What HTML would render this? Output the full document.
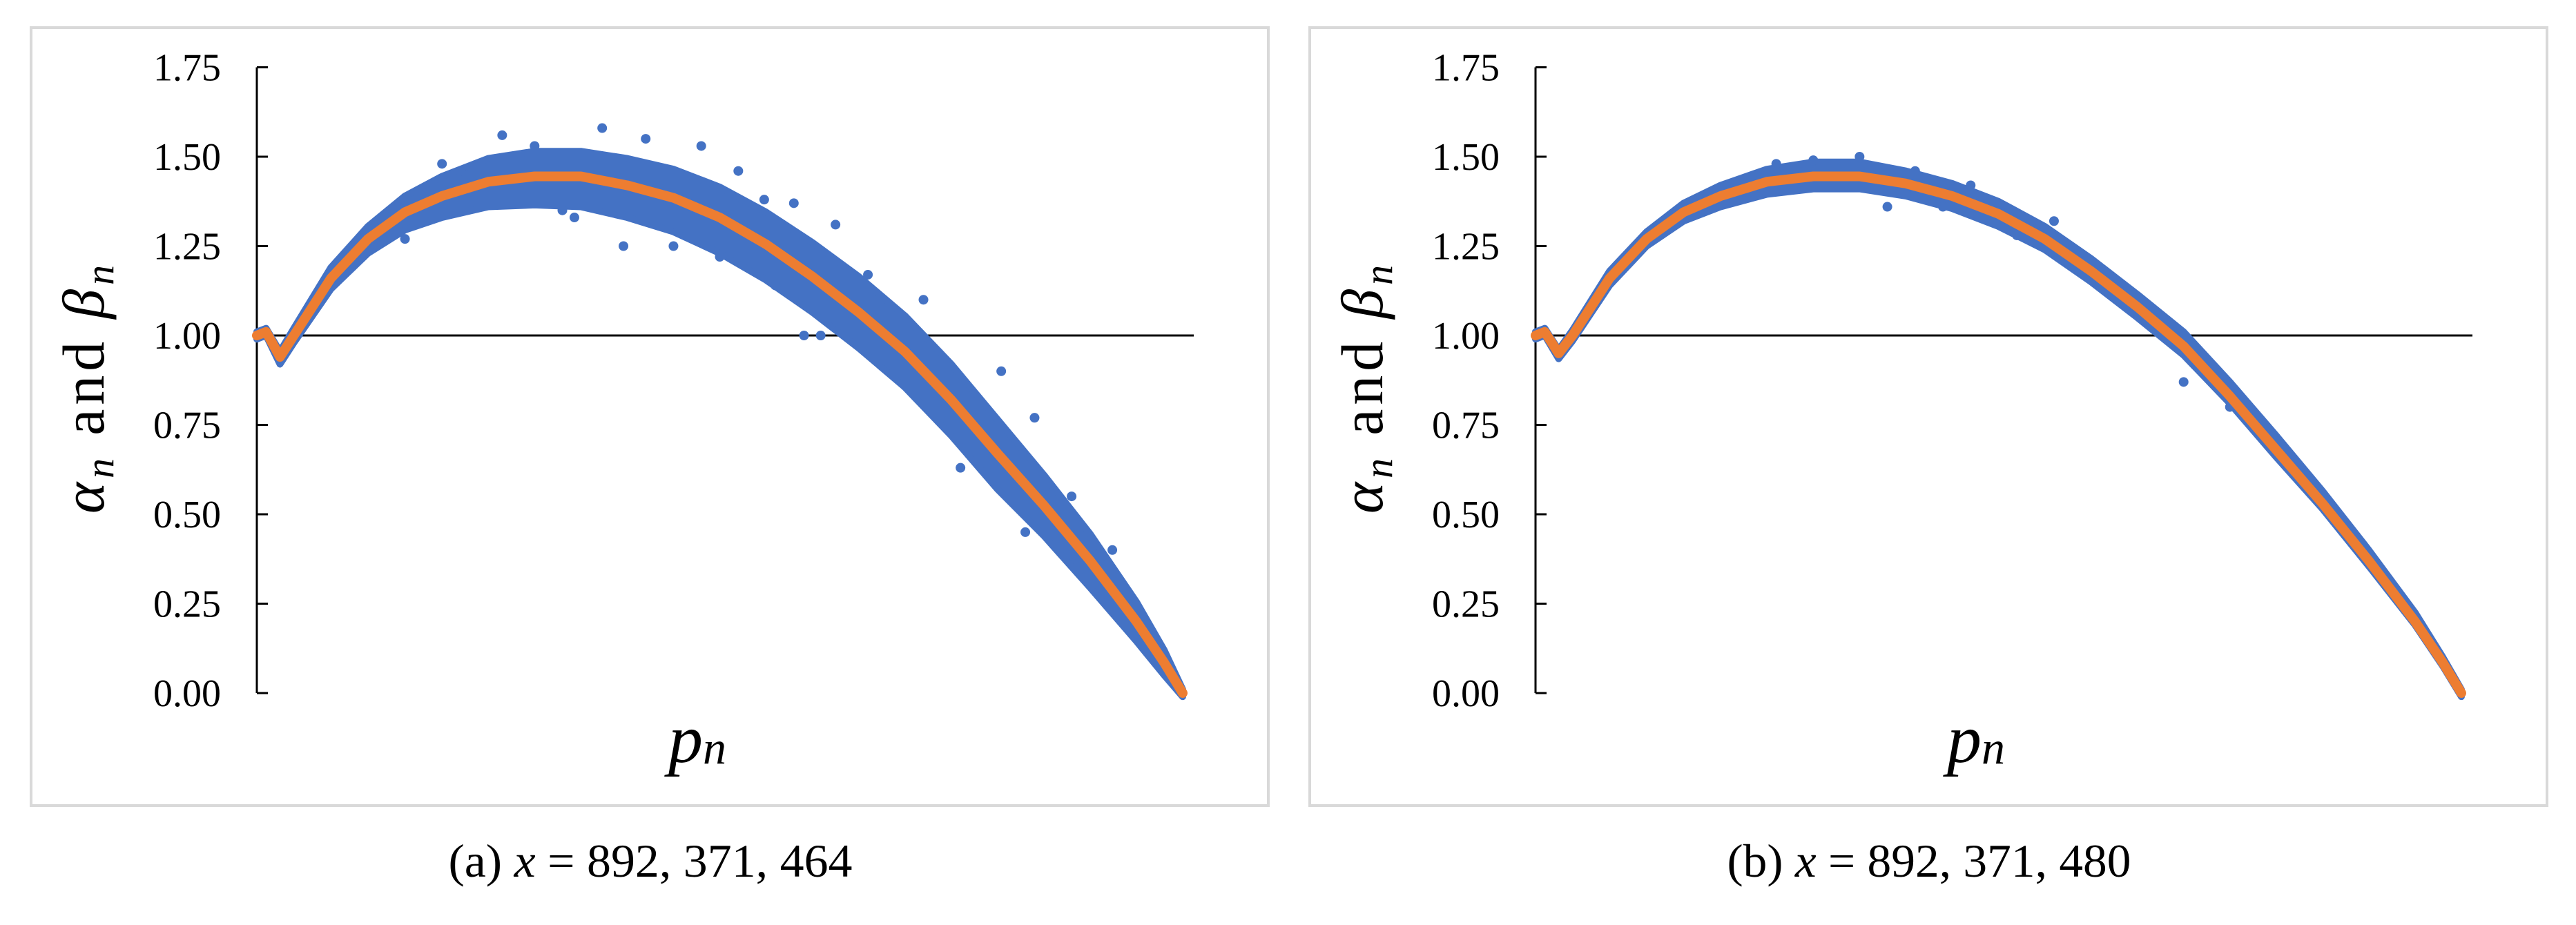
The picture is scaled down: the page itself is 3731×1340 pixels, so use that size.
<!DOCTYPE html>
<html><head><meta charset="utf-8"><style>
html,body{margin:0;padding:0;background:#fff}
svg{display:block}
text{font-family:"Liberation Serif",serif;fill:#000}
</style></head><body>
<svg id="chart" width="3731" height="1340" viewBox="0 0 3731 1340" xmlns="http://www.w3.org/2000/svg"></svg>
<script>
const xFrac = [0,0.01,0.025,0.04,0.08,0.12,0.16,0.2,0.25,0.3,0.35,0.4,0.45,0.5,0.55,0.6,0.65,0.7,0.75,0.8,0.85,0.9,0.95,0.98,1.0];
const fitA = [1.0,1.01,0.94,1.0,1.16,1.27,1.345,1.39,1.43,1.445,1.445,1.42,1.385,1.33,1.255,1.165,1.065,0.955,0.82,0.67,0.525,0.37,0.2,0.085,0.0];
const upA = [0.01,0.01,0.015,0.02,0.03,0.035,0.045,0.055,0.065,0.07,0.07,0.075,0.08,0.085,0.09,0.095,0.1,0.1,0.1,0.095,0.085,0.075,0.055,0.035,0.01];
const loA = [0.01,0.01,0.02,0.02,0.03,0.04,0.05,0.06,0.07,0.08,0.085,0.09,0.095,0.1,0.1,0.1,0.1,0.1,0.1,0.1,0.085,0.075,0.055,0.035,0.01];
const outA_x = [0.265,0.373,0.48,0.625,0.804,0.76,0.83,0.548,0.343,0.396,0.609,0.591,0.84,0.924,0.22,0.45,0.2,0.3,0.42,0.52,0.58,0.66,0.72,0.88,0.9,0.16,0.33,0.5,0.7,0.56];
const outA_y = [1.56,1.58,1.53,1.31,0.90,0.63,0.45,1.38,1.33,1.25,1.0,1.0,0.77,0.40,1.46,1.25,1.48,1.53,1.55,1.46,1.37,1.17,1.1,0.55,0.38,1.27,1.35,1.22,0.86,1.14];
const fitB = [1.0,1.01,0.95,1.0,1.16,1.27,1.345,1.39,1.43,1.445,1.445,1.425,1.39,1.34,1.27,1.18,1.08,0.97,0.83,0.68,0.53,0.37,0.2,0.085,0.0];
const upB = [0.01,0.01,0.01,0.015,0.02,0.02,0.025,0.03,0.035,0.04,0.04,0.035,0.035,0.035,0.035,0.035,0.035,0.04,0.04,0.04,0.035,0.03,0.025,0.015,0.01];
const loB = [0.01,0.01,0.015,0.015,0.02,0.02,0.025,0.03,0.035,0.035,0.035,0.035,0.035,0.035,0.03,0.03,0.03,0.025,0.02,0.02,0.015,0.015,0.01,0.01,0.01];
const outB_x = [0.35,0.26,0.38,0.44,0.52,0.6,0.7,0.75,0.41,0.3,0.47,0.56,0.66,0.72];
const outB_y = [1.50,1.48,1.36,1.36,1.28,1.17,0.87,0.80,1.46,1.49,1.42,1.32,1.04,0.93];
const yTicks = [0,0.25,0.5,0.75,1.0,1.25,1.5,1.75];
const yTickLabels = ["0.00","0.25","0.50","0.75","1.00","1.25","1.50","1.75"];
const captions = ["892, 371, 464","892, 371, 480"];

const NS="http://www.w3.org/2000/svg";
const svg=document.getElementById('chart');
function mk(tag,attrs,parent){const e=document.createElementNS(NS,tag);for(const k in attrs)e.setAttribute(k,attrs[k]);(parent||svg).appendChild(e);return e;}

function panel(off,fit,up,lo,ox,oy,cap,label){
  const g=mk('g',{});
  
  
  const X=f=>372+off+f*1341;
  const Y=v=>1004-v*518;
  const fr=mk('rect',{x:45+off,y:40,width:1792,height:1127,fill:'none',stroke:'#d9d9d9','stroke-width':4},g);
  
  
  const ax=mk('line',{x1:X(0),y1:Y(1.75),x2:X(0),y2:Y(0),stroke:'#000','stroke-width':3},g);
  
  
  yTicks.forEach((t,i)=>{
    const tk=mk('line',{x1:X(0),y1:Y(t),x2:X(0)+16,y2:Y(t),stroke:'#000','stroke-width':3},g);
    
    
    const tl=mk('text',{x:X(0)-52,y:Y(t)+19,'font-size':56,'text-anchor':'end'},g);
    tl.textContent=yTickLabels[i];
    
    
  });
  const ref=mk('line',{x1:X(0),y1:Y(1),x2:X(1)+16,y2:Y(1),stroke:'#000','stroke-width':3},g);
  
  
  let pts=[];
  xFrac.forEach((f,i)=>pts.push(X(f)+','+Y(fit[i]+up[i])));
  for(let i=xFrac.length-1;i>=0;i--)pts.push(X(xFrac[i])+','+Y(fit[i]-lo[i]));
  const band=mk('polygon',{points:pts.join(' '),fill:'#4472c4',stroke:'#4472c4','stroke-width':10,'stroke-linejoin':'round'},g);
  
  
  ox.forEach((f,i)=>{
    const c=mk('circle',{cx:X(f),cy:Y(oy[i]),r:7,fill:'#4472c4'},g);
    
    
  });
  const d=xFrac.map((f,i)=>(i?'L':'M')+X(f)+' '+Y(fit[i])).join(' ');
  const ln=mk('path',{d:d,fill:'none',stroke:'#ed7d31','stroke-width':14,'stroke-linejoin':'round','stroke-linecap':'round'},g);
  
  
  const yt=mk('text',{x:0,y:0,'font-size':86,'text-anchor':'middle',textLength:360,lengthAdjust:'spacing',transform:`translate(${150+off},564) rotate(-90)`},g);
  yt.innerHTML='<tspan font-style="italic">α</tspan><tspan font-style="italic" font-size="58" dy="14">n</tspan><tspan dy="-14"> and </tspan><tspan font-style="italic">β</tspan><tspan font-style="italic" font-size="58" dy="14">n</tspan>';
  
  
  const xt=mk('text',{x:1010+off,y:1104,'font-size':100,'font-style':'italic','text-anchor':'middle'},g);
  xt.innerHTML='p<tspan font-size="68" dy="2">n</tspan>';
  
  
  const ct=mk('text',{x:942+off,y:1270,'font-size':68,'text-anchor':'middle',textLength:585,lengthAdjust:'spacingAndGlyphs'},g);
  ct.innerHTML='('+label+')  <tspan font-style="italic">x</tspan>  =  '+cap;
  
  
}
panel(0,fitA,upA,loA,outA_x,outA_y,captions[0],'a');
panel(1852,fitB,upB,loB,outB_x,outB_y,captions[1],'b');
</script>
</body></html>
